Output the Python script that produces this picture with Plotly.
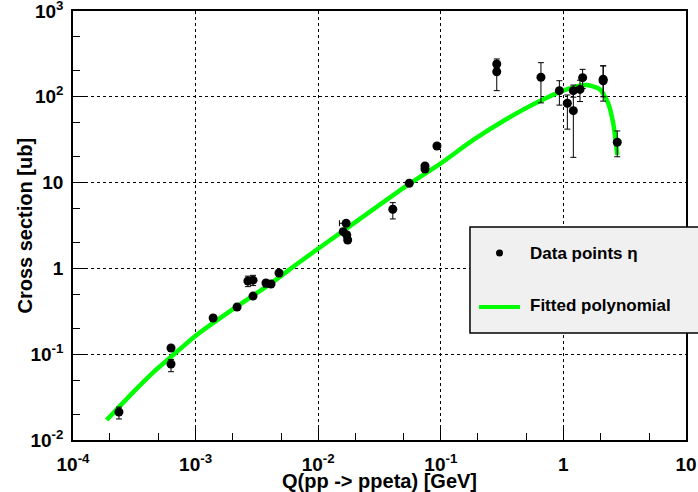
import plotly.graph_objects as go

# ---- data ----
data_x = [2.37e-4, 6.3e-4, 6.3e-4, 1.39e-3, 2.18e-3, 2.94e-3, 2.67e-3, 2.94e-3,
          3.75e-3, 4.12e-3, 4.79e-3, 0.0169, 0.0160, 0.0171, 0.0174, 0.0406,
          0.0553, 0.0743, 0.0743, 0.093, 0.286, 0.286, 0.656, 0.927, 1.077,
          1.205, 1.205, 1.365, 1.435, 2.11, 2.11, 2.75]
data_y = [0.0212, 0.118, 0.0769, 0.264, 0.355, 0.476, 0.713, 0.73,
          0.676, 0.657, 0.883, 3.36, 2.68, 2.45, 2.14, 4.89,
          9.82, 15.6, 14.4, 26.7, 241, 196, 169, 118, 84,
          118, 68.9, 122, 167, 154, 160, 29.5]
err_plus = [0.003, 0.008, 0.010, 0.02, 0.02, 0.03, 0.10, 0.10,
            0.05, 0.04, 0.05, 0.25, 0.2, 0.2, 0.15, 0.95,
            0.6, 1.0, 1.0, 2.0, 35, 15, 81, 36, 21,
            19, 49, 34, 42, 75, 70, 10.5]
err_minus = [0.0036, 0.008, 0.0144, 0.02, 0.02, 0.03, 0.10, 0.10,
             0.07, 0.04, 0.05, 0.25, 0.2, 0.2, 0.15, 1.12,
             0.6, 1.0, 1.0, 2.0, 15, 78, 84, 38, 42,
             19, 49.2, 34, 42, 65, 60, 9.5]
xerr_minus = [0]*11 + [0.002] + [0]*20

fit_x = [1.88e-4, 3.16e-4, 4.47e-4, 6.31e-4, 1.02e-3, 2.16e-3, 4.12e-3, 7.11e-3,
         0.0171, 0.0553, 0.0985, 0.184, 0.344, 0.644, 1.064, 1.549,
         1.99, 2.32, 2.55, 2.75]
fit_y = [0.0171, 0.0372, 0.0607, 0.0933, 0.1675, 0.358, 0.670, 1.197,
         2.93, 9.64, 16.5, 31.4, 55.1, 89.3, 122, 137,
         122, 84, 49, 21]

x_tickvals = [1e-4, 1e-3, 1e-2, 1e-1, 1, 10]
x_ticktext = ["10<sup>-4</sup>", "10<sup>-3</sup>", "10<sup>-2</sup>",
              "10<sup>-1</sup>", "1", "10"]
y_tickvals = [1e-2, 1e-1, 1, 10, 100, 1000]
y_ticktext = ["10<sup>-2</sup>", "10<sup>-1</sup>", "1", "10",
              "10<sup>2</sup>", "10<sup>3</sup>"]

legend_labels = ["Data points η", "Fitted polynomial"]
x_title = "Q(pp -&gt; ppeta) [GeV]"
y_title = "Cross section [ub]"

FONT = "Arial, 'Liberation Sans', Helvetica, sans-serif"

fig = go.Figure()
fig.add_trace(go.Scatter(
    x=fit_x, y=fit_y, mode="lines",
    line=dict(color="#00ff00", width=4.5, shape="spline", smoothing=0.6),
    showlegend=False, hoverinfo="skip"))
fig.add_trace(go.Scatter(
    x=data_x, y=data_y, mode="markers",
    marker=dict(color="black", size=9),
    error_y=dict(type="data", symmetric=False, array=err_plus, arrayminus=err_minus,
                 color="black", thickness=1, width=3),
    error_x=dict(type="data", symmetric=False, array=[0]*len(data_x), arrayminus=xerr_minus,
                 color="black", thickness=1, width=3),
    showlegend=False))

axis_common = dict(
    type="log", showline=True, linecolor="black", linewidth=1.5, mirror=True,
    ticks="inside", ticklen=14, tickcolor="black", tickwidth=1,
    showgrid=True, gridcolor="black", gridwidth=1, griddash="dot",
    zeroline=False, automargin=False, ticklabeloverflow="allow",
    tickfont=dict(family=FONT, size=19, color="black", weight="bold"),
    minor=dict(ticks="inside", ticklen=7, tickcolor="black", showgrid=False),
)

fig.update_xaxes(range=[-4, 1], tickvals=x_tickvals, ticktext=x_ticktext,
                 ticklabelstandoff=6,
                 title=dict(text=x_title, font=dict(family=FONT, size=20, color="black", weight="bold"),
                            standoff=0),
                 **axis_common)
fig.update_yaxes(range=[-2, 3], tickvals=y_tickvals, ticktext=y_ticktext,
                 ticklabelstandoff=4,
                 **axis_common)

# y-axis title placed as rotated annotation
fig.add_annotation(xref="paper", yref="paper", x=(24 - 73) / 613, y=0.5,
                   text=y_title, textangle=-90, showarrow=False,
                   xanchor="center", yanchor="middle",
                   font=dict(family=FONT, size=20, color="black", weight="bold"))

# manual ROOT-style legend box
lx0, lx1, ly0, ly1 = 0.6476, 1.05, 0.2494, 0.4965
fig.add_shape(type="rect", xref="paper", yref="paper", x0=lx0, x1=lx1, y0=ly0, y1=ly1,
              fillcolor="#f0f0f0", line=dict(color="black", width=1.5), layer="above")
fig.add_shape(type="circle", xref="paper", yref="paper",
              x0=(496 - 73) / 613, x1=(503 - 73) / 613,
              y0=(440 - 256.5) / 429, y1=(440 - 249.5) / 429,
              fillcolor="black", line=dict(color="black", width=0), layer="above")
fig.add_shape(type="line", xref="paper", yref="paper",
              x0=(479 - 73) / 613, x1=(520 - 73) / 613,
              y0=(440 - 307) / 429, y1=(440 - 307) / 429,
              line=dict(color="#00ff00", width=4), layer="above")
for lbl, py in zip(legend_labels, [253, 306]):
    fig.add_annotation(xref="paper", yref="paper", x=(528 - 73) / 613, y=(440 - py) / 429,
                       text=lbl, showarrow=False, xanchor="left", yanchor="middle",
                       font=dict(family=FONT, size=17, color="black", weight="bold"))

fig.update_layout(
    width=698, height=492,
    margin=dict(l=73, r=12, t=11, b=52),
    paper_bgcolor="white", plot_bgcolor="white",
    showlegend=False,
)

fig.write_html("out.html", config={"displayModeBar": False},
               post_script="document.body.style.margin='0';document.body.style.overflow='hidden';")
